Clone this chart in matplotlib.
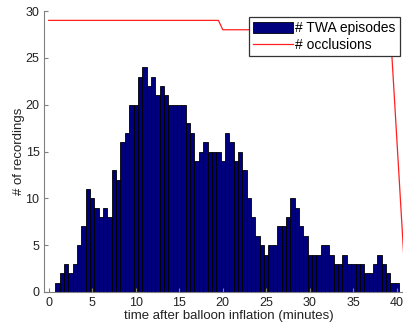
import matplotlib.pyplot as plt

plt.rcParams['font.family'] = ['Liberation Sans', 'DejaVu Sans']

# histogram of TWA episodes, one bar per half minute
t_bins = [1.0 + 0.5 * i for i in range(79)]
twa_counts = [1, 2, 3, 2, 3, 5, 7, 11, 10, 9,
              8, 9, 8, 13, 12, 16, 17, 20, 20, 23,
              24, 22, 23, 21, 22, 21, 20, 20, 20, 20,
              18, 17, 14, 15, 16, 15, 15, 15, 14, 17,
              16, 14, 15, 13, 10, 8, 6, 5, 4, 5,
              5, 7, 7, 8, 10, 9, 7, 6, 4, 4,
              4, 5, 5, 4, 3, 3, 4, 3, 3, 3,
              3, 2, 2, 3, 4, 3, 2, 1, 1]

# number of occlusions still running
occl_t = [0, 19.5, 20.0, 39.25, 40.8]
occl_n = [29, 29, 28, 28, 3.7]

font_size = 9
axis_color = '#808080'
text_color = '#222222'

fig = plt.figure(figsize=(4.03, 3.29), dpi=100)
ax = fig.add_axes([0.11, 0.1125, 0.918, 0.854])

bars = ax.bar(t_bins, twa_counts, width=0.5, color='#00007f', edgecolor='black',
              linewidth=0.6)
line, = ax.plot(occl_t, occl_n, color='#ff2020', linewidth=0.9)

ax.set_xlim(-0.5, 42)
ax.set_ylim(0, 30)
ax.set_xticks(range(0, 41, 5))
ax.set_yticks(range(0, 31, 5))
ax.tick_params(axis='both', direction='in', length=3, width=0.8,
               labelsize=font_size, colors=axis_color, labelcolor=text_color)
ax.spines['top'].set_visible(False)
ax.spines['right'].set_visible(False)
ax.spines['left'].set_color(axis_color)
ax.spines['bottom'].set_color(axis_color)

ax.set_xlabel('time after balloon inflation (minutes)', fontsize=font_size + 0.5,
              color=text_color, labelpad=1)
ax.set_ylabel('# of recordings', fontsize=font_size + 0.5, color=text_color,
              labelpad=0)

leg = fig.legend([bars, line], ['# TWA episodes', '# occlusions'],
                 loc='upper right', bbox_to_anchor=(400 / 403, 1 - 17 / 329),
                 fontsize=10, frameon=True, fancybox=False,
                 borderpad=0.3, handlelength=2.9, handleheight=0.9,
                 handletextpad=0.15, labelspacing=0.2, borderaxespad=0)
leg.get_frame().set_edgecolor('#333333')
leg.get_frame().set_linewidth(0.9)
leg.get_frame().set_alpha(1)

fig.savefig('out.png', dpi=100)
plt.close('all')
